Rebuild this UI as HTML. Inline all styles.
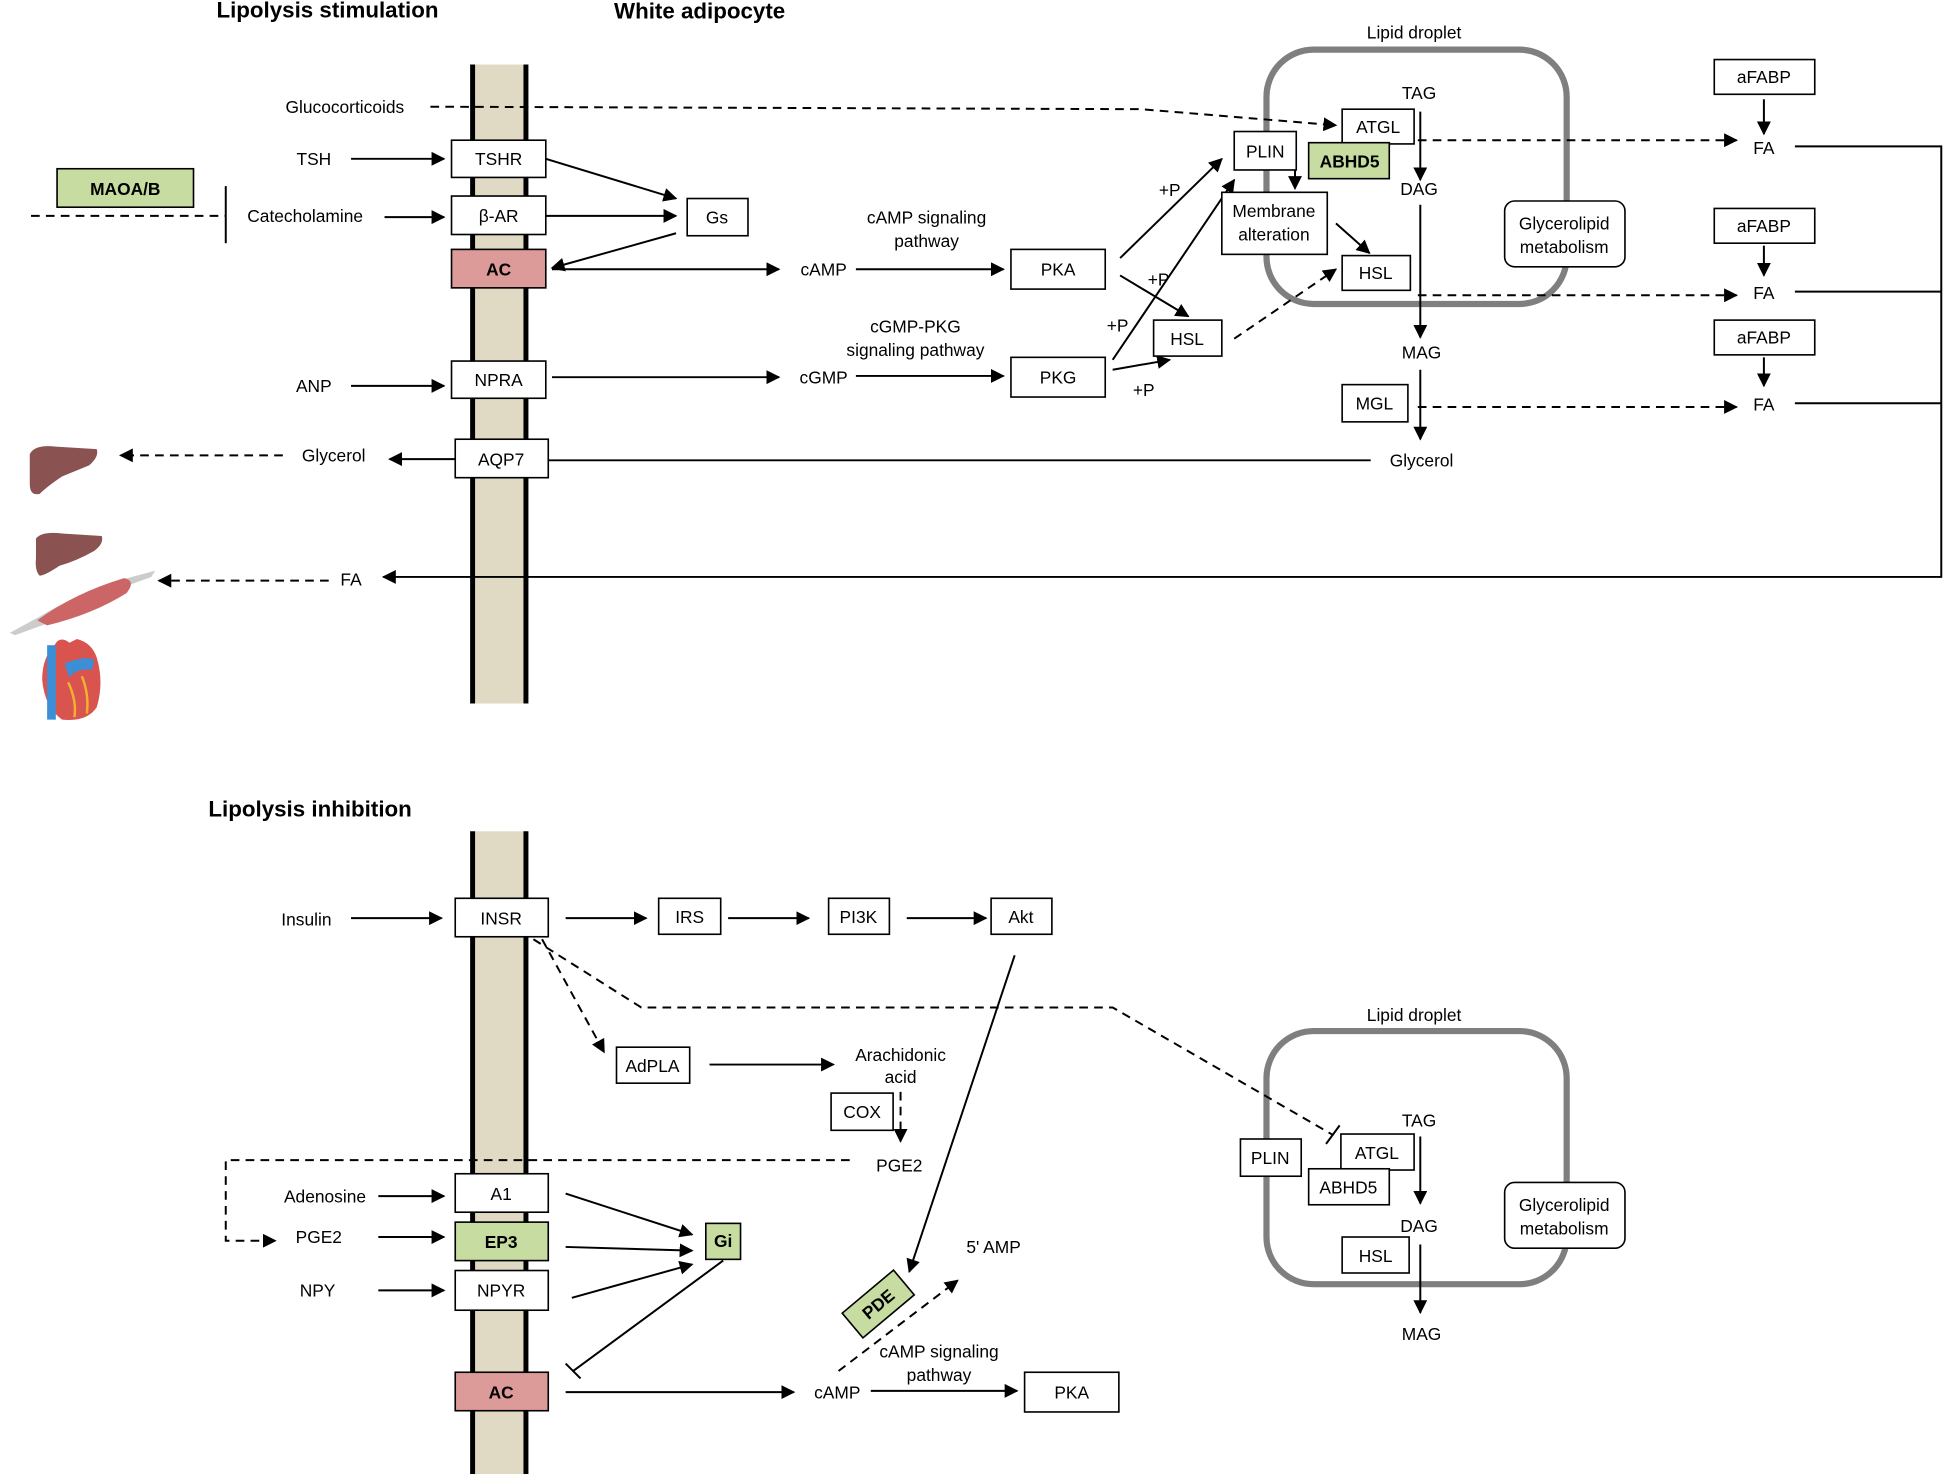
<!DOCTYPE html>
<html><head><meta charset="utf-8"><style>
html,body{margin:0;padding:0;background:#fff;}
svg{display:block;}
text{font-family:"Liberation Sans",sans-serif;font-size:14px;fill:#000;text-anchor:middle;}
.b{font-weight:bold;}
.t{font-size:18px;font-weight:bold;}
.bx{fill:#fff;stroke:#000;stroke-width:1.3;}
.g{fill:#c6dca0;}
.r{fill:#dc9a98;}
.l{stroke:#000;stroke-width:1.6;fill:none;}
.a{marker-end:url(#ah);}
.d{stroke-dasharray:7 5;}
</style></head><body>
<svg width="1945" height="1474" viewBox="0 0 1568 1188" preserveAspectRatio="none" xmlns="http://www.w3.org/2000/svg">
<defs><marker id="ah" viewBox="0 0 10 10" refX="9" refY="5" markerWidth="7" markerHeight="7" orient="auto"><path d="M0,0L10,5L0,10z" fill="#000"/></marker></defs>
<rect width="1568" height="1188" fill="#fff"/>
<!-- membranes -->
<rect x="381" y="52" width="43" height="515" fill="#e0dac4"/>
<line x1="381" y1="52" x2="381" y2="567" stroke="#000" stroke-width="4"/>
<line x1="424" y1="52" x2="424" y2="567" stroke="#000" stroke-width="4"/>
<rect x="381" y="670" width="43" height="518" fill="#e0dac4"/>
<line x1="381" y1="670" x2="381" y2="1188" stroke="#000" stroke-width="4"/>
<line x1="424" y1="670" x2="424" y2="1188" stroke="#000" stroke-width="4"/>
<!-- lipid droplets -->
<rect x="1021" y="40" width="242" height="205" rx="38" fill="none" stroke="#7f7f7f" stroke-width="5"/>
<rect x="1021" y="831" width="242" height="204" rx="38" fill="none" stroke="#7f7f7f" stroke-width="5"/>
<text class="t" x="264" y="14">Lipolysis stimulation</text>
<text class="t" x="564" y="15">White adipocyte</text>
<text x="1140" y="31">Lipid droplet</text>
<text class="t" x="250" y="658">Lipolysis inhibition</text>
<text x="1140" y="823">Lipid droplet</text>
<!-- top lines -->
<polyline class="l d a" points="347,86 920,88 1077,101"/>
<line class="l a" x1="283" y1="128" x2="358" y2="128"/>
<line class="l a" x1="440" y1="128" x2="545" y2="160"/>
<line class="l a" x1="440" y1="174" x2="545" y2="174"/>
<line class="l a" x1="545" y1="188" x2="445" y2="216"/>
<line class="l a" x1="445" y1="217" x2="628" y2="217"/>
<line class="l a" x1="310" y1="175" x2="358" y2="175"/>
<line class="l" x1="182" y1="150" x2="182" y2="196"/>
<line class="l d" x1="25" y1="174" x2="182" y2="174"/>
<line class="l a" x1="690" y1="217" x2="809" y2="217"/>
<line class="l a" x1="903" y1="208" x2="985" y2="128"/>
<line class="l a" x1="903" y1="222" x2="958" y2="255"/>
<line class="l a" x1="897" y1="298" x2="943" y2="290"/>
<line class="l a" x1="897" y1="290" x2="995" y2="145"/>
<line class="l d a" x1="995" y1="273" x2="1077" y2="217"/>
<line class="l a" x1="283" y1="311" x2="358" y2="311"/>
<line class="l a" x1="445" y1="304" x2="628" y2="304"/>
<line class="l a" x1="690" y1="303" x2="809" y2="303"/>
<line class="l" x1="442" y1="371" x2="1105" y2="371"/>
<line class="l a" x1="367" y1="370" x2="314" y2="370"/>
<line class="l d a" x1="228" y1="367" x2="97" y2="367"/>
<polyline class="l a" points="1447,118 1565,118 1565,465 309,465"/>
<line class="l" x1="1447" y1="235" x2="1565" y2="235"/>
<line class="l" x1="1447" y1="325" x2="1565" y2="325"/>
<line class="l d a" x1="265" y1="468" x2="128" y2="468"/>
<line class="l a" x1="1422" y1="80" x2="1422" y2="108"/>
<line class="l a" x1="1422" y1="198" x2="1422" y2="222"/>
<line class="l a" x1="1422" y1="288" x2="1422" y2="311"/>
<line class="l d a" x1="1143" y1="113" x2="1400" y2="113"/>
<line class="l d a" x1="1143" y1="238" x2="1400" y2="238"/>
<line class="l d a" x1="1143" y1="328" x2="1400" y2="328"/>
<line class="l a" x1="1145" y1="90" x2="1145" y2="145"/>
<line class="l a" x1="1145" y1="165" x2="1145" y2="272"/>
<line class="l a" x1="1145" y1="298" x2="1145" y2="354"/>
<line class="l a" x1="1044" y1="137" x2="1044" y2="152"/>
<line class="l a" x1="1077" y1="180" x2="1104" y2="204"/>
<!-- top boxes -->
<rect class="bx" x="364" y="113" width="76" height="30"/><text x="402" y="133">TSHR</text>
<rect class="bx" x="364" y="158" width="76" height="31"/><text x="402" y="179">β-AR</text>
<rect class="bx r" x="364" y="201" width="76" height="31"/><text class="b" x="402" y="222">AC</text>
<rect class="bx" x="364" y="291" width="76" height="30"/><text x="402" y="311">NPRA</text>
<rect class="bx" x="367" y="354" width="75" height="31"/><text x="404" y="375">AQP7</text>
<rect class="bx" x="554" y="160" width="49" height="30"/><text x="578" y="180">Gs</text>
<rect class="bx" x="815" y="201" width="76" height="32"/><text x="853" y="222">PKA</text>
<rect class="bx" x="815" y="288" width="76" height="32"/><text x="853" y="309">PKG</text>
<rect class="bx" x="930" y="258" width="55" height="29"/><text x="957" y="278">HSL</text>
<rect class="bx" x="1082" y="88" width="58" height="28"/><text x="1111" y="107">ATGL</text>
<rect class="bx" x="995" y="106" width="50" height="31"/><text x="1020" y="127">PLIN</text>
<rect class="bx g" x="1055" y="115" width="65" height="29"/><text class="b" x="1088" y="135">ABHD5</text>
<rect class="bx" x="985" y="155" width="85" height="50"/><text x="1027" y="175">Membrane</text><text x="1027" y="194">alteration</text>
<rect class="bx" x="1082" y="206" width="55" height="28"/><text x="1109" y="225">HSL</text>
<rect class="bx" x="1082" y="310" width="53" height="30"/><text x="1108" y="330">MGL</text>
<rect class="bx" x="1213" y="162" width="97" height="53" rx="8" stroke-width="1.8"/><text x="1261" y="185">Glycerolipid</text><text x="1261" y="204">metabolism</text>
<rect class="bx" x="1382" y="48" width="81" height="28"/><text x="1422" y="67">aFABP</text>
<rect class="bx" x="1382" y="168" width="81" height="28"/><text x="1422" y="187">aFABP</text>
<rect class="bx" x="1382" y="258" width="81" height="28"/><text x="1422" y="277">aFABP</text>
<rect class="bx g" x="46" y="136" width="110" height="31"/><text class="b" x="101" y="157">MAOA/B</text>
<!-- top texts -->
<text x="278" y="91">Glucocorticoids</text>
<text x="253" y="133">TSH</text>
<text x="246" y="179">Catecholamine</text>
<text x="253" y="316">ANP</text>
<text x="269" y="372">Glycerol</text>
<text x="283" y="472">FA</text>
<text x="747" y="180">cAMP signaling</text><text x="747" y="199">pathway</text>
<text x="664" y="222">cAMP</text>
<text x="738" y="268">cGMP-PKG</text><text x="738" y="287">signaling pathway</text>
<text x="664" y="309">cGMP</text>
<text x="943" y="158">+P</text><text x="934" y="230">+P</text><text x="901" y="267">+P</text><text x="922" y="319">+P</text>
<text x="1144" y="80">TAG</text><text x="1144" y="157">DAG</text><text x="1146" y="289">MAG</text><text x="1146" y="376">Glycerol</text>
<text x="1422" y="124">FA</text><text x="1422" y="241">FA</text><text x="1422" y="331">FA</text>
<!-- organs -->
<path d="M24,366 Q28,358 45,360 L78,362 Q80,368 72,375 Q60,380 50,384 Q38,392 32,398 Q24,400 24,390 Z" fill="#8b5252"/>
<path d="M29,434 Q34,428 50,430 L82,432 Q84,438 76,444 Q62,452 48,456 Q36,464 32,464 Q28,460 29,450 Z" fill="#8b5252"/>
<path d="M8,510 L32,497 Q60,480 95,468 L125,460 L122,465 L100,473 Q80,490 45,500 L12,512 Z" fill="#ccc"/>
<path d="M30,500 Q60,478 100,466 Q110,468 102,478 Q75,495 38,504 Z" fill="#cc6666"/>
<path d="M44,520 Q48,512 56,518 L62,515 Q74,518 78,530 Q84,550 78,570 Q70,582 50,580 Q36,570 34,548 Q34,530 44,520 Z" fill="#d9534f"/>
<rect x="38" y="520" width="7" height="60" fill="#3a8fd6"/>
<path d="M52,535 Q68,528 76,532 L74,540 Q62,538 56,546 Z" fill="#3a8fd6"/>
<path d="M55,550 Q62,565 60,578 M66,545 Q72,560 70,575" stroke="#f0b030" stroke-width="2" fill="none"/>
<!-- bottom lines -->
<line class="l a" x1="283" y1="740" x2="356" y2="740"/>
<line class="l a" x1="456" y1="740" x2="521" y2="740"/>
<line class="l a" x1="587" y1="740" x2="652" y2="740"/>
<line class="l a" x1="731" y1="740" x2="795" y2="740"/>
<line class="l a" x1="818" y1="770" x2="733" y2="1025"/>
<line class="l d a" x1="437" y1="757" x2="487" y2="848"/>
<polyline class="l d" points="430,757 517,812 897,812 1075,915"/>
<line class="l" x1="1069" y1="922" x2="1080" y2="907"/>
<line class="l a" x1="572" y1="858" x2="672" y2="858"/>
<line class="l d a" x1="726" y1="880" x2="726" y2="920"/>
<polyline class="l d a" points="685,935 182,935 182,1000 222,1000"/>
<line class="l a" x1="305" y1="964" x2="358" y2="964"/>
<line class="l a" x1="305" y1="997" x2="358" y2="997"/>
<line class="l a" x1="305" y1="1040" x2="358" y2="1040"/>
<line class="l a" x1="456" y1="962" x2="558" y2="995"/>
<line class="l a" x1="456" y1="1005" x2="558" y2="1008"/>
<line class="l a" x1="461" y1="1046" x2="558" y2="1019"/>
<line class="l" x1="583" y1="1016" x2="462" y2="1105"/>
<line class="l" x1="456" y1="1099" x2="468" y2="1111"/>
<line class="l a" x1="456" y1="1122" x2="640" y2="1122"/>
<line class="l a" x1="702" y1="1121" x2="820" y2="1121"/>
<line class="l d a" x1="676" y1="1105" x2="772" y2="1032"/>
<line class="l a" x1="1145" y1="916" x2="1145" y2="970"/>
<line class="l a" x1="1145" y1="1003" x2="1145" y2="1058"/>
<!-- bottom boxes -->
<rect class="bx" x="367" y="724" width="75" height="31"/><text x="404" y="745">INSR</text>
<rect class="bx" x="531" y="724" width="50" height="29"/><text x="556" y="744">IRS</text>
<rect class="bx" x="668" y="724" width="49" height="29"/><text x="692" y="744">PI3K</text>
<rect class="bx" x="799" y="724" width="49" height="29"/><text x="823" y="744">Akt</text>
<rect class="bx" x="497" y="844" width="59" height="29"/><text x="526" y="864">AdPLA</text>
<rect class="bx" x="670" y="881" width="50" height="30"/><text x="695" y="901">COX</text>
<rect class="bx" x="367" y="946" width="75" height="31"/><text x="404" y="967">A1</text>
<rect class="bx g" x="367" y="985" width="75" height="31"/><text class="b" x="404" y="1006">EP3</text>
<rect class="bx" x="367" y="1024" width="75" height="32"/><text x="404" y="1045">NPYR</text>
<rect class="bx r" x="367" y="1106" width="75" height="31"/><text class="b" x="404" y="1127">AC</text>
<rect class="bx g" x="569" y="986" width="28" height="29"/><text class="b" x="583" y="1005">Gi</text>
<rect class="bx" x="826" y="1106" width="76" height="32"/><text x="864" y="1127">PKA</text>
<g transform="translate(708,1051) rotate(-40)"><rect class="bx g" x="-27" y="-13" width="54" height="26"/><text class="b" x="0" y="5">PDE</text></g>
<rect class="bx" x="1000" y="918" width="49" height="30"/><text x="1024" y="938">PLIN</text>
<rect class="bx" x="1081" y="914" width="59" height="29"/><text x="1110" y="934">ATGL</text>
<rect class="bx" x="1055" y="942" width="65" height="29"/><text x="1087" y="962">ABHD5</text>
<rect class="bx" x="1082" y="997" width="54" height="29"/><text x="1109" y="1017">HSL</text>
<rect class="bx" x="1213" y="953" width="97" height="53" rx="8" stroke-width="1.8"/><text x="1261" y="976">Glycerolipid</text><text x="1261" y="995">metabolism</text>
<!-- bottom texts -->
<text x="247" y="746">Insulin</text>
<text x="726" y="855">Arachidonic</text><text x="726" y="873">acid</text>
<text x="725" y="944">PGE2</text>
<text x="262" y="969">Adenosine</text>
<text x="257" y="1002">PGE2</text>
<text x="256" y="1045">NPY</text>
<text x="801" y="1010">5' AMP</text>
<text x="757" y="1094">cAMP signaling</text><text x="757" y="1113">pathway</text>
<text x="675" y="1127">cAMP</text>
<text x="1144" y="908">TAG</text><text x="1144" y="993">DAG</text><text x="1146" y="1080">MAG</text>
</svg>
</body></html>
